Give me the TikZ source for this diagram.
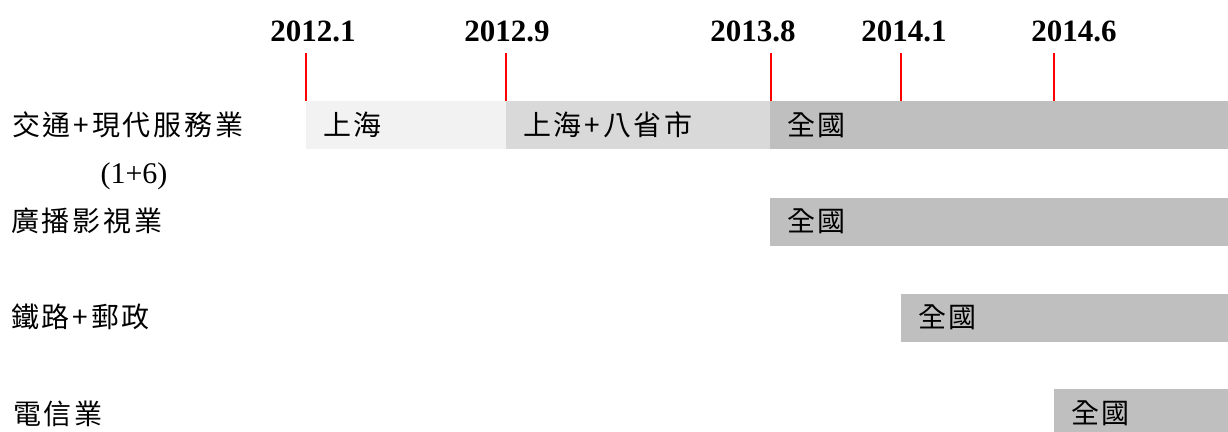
\documentclass[tikz,border=0pt]{standalone}
\usepackage{fontspec}
\setmainfont{Liberation Serif}
\newfontfamily\cjk[LetterSpace=10]{Noto Sans CJK TC}
\definecolor{barA}{HTML}{F2F2F2}
\definecolor{barB}{HTML}{D9D9D9}
\definecolor{barC}{HTML}{BFBFBF}
\tikzset{
  year/.style={anchor=base, inner sep=0pt, font=\fontsize{31}{31}\selectfont\bfseries},
  rowlabel/.style={anchor=west, inner sep=0pt, font=\cjk\fontsize{28}{30}\selectfont},
  serifnote/.style={inner sep=0pt, font=\fontsize{30}{30}\selectfont},
  barbox/.style={anchor=north west, minimum height=48pt, inner xsep=17pt, inner ysep=0pt,
    align=left, font=\cjk\fontsize{28}{30}\selectfont},
  tick/.style={draw=red, line width=2pt}
}
\begin{document}
\begin{tikzpicture}[x=1pt, y=-1pt]
\useasboundingbox (0,0) rectangle (1228,431);
\clip (0,0) rectangle (1228,431);
% year labels
\node[year] (y1) at (313,41.7) {2012.1};
\node[year] (y2) at (507,41.7) {2012.9};
\node[year] (y3) at (753,41.7) {2013.8};
\node[year] (y4) at (904,41.7) {2014.1};
\node[year] (y5) at (1074,41.7) {2014.6};
% bars row 1
\node[barbox, fill=barA, text width=166pt] (r1a) at (306,100.7) {上海};
\node[barbox, fill=barB, text width=230pt] (r1b) at (506,100.7) {上海+八省市};
\node[barbox, fill=barC, text width=424pt] (r1c) at (770,100.7) {全國};
% row 2
\node[barbox, fill=barC, text width=424pt] (r2) at (770,197.3) {全國};
% row 3
\node[barbox, fill=barC, text width=293pt] (r3) at (901,293.3) {全國};
% row 4
\node[barbox, fill=barC, text width=140pt] (r4) at (1054,389) {全國};
% ticks
\coordinate (t1) at (306,53.3);
\coordinate (t2) at (506,53.3);
\coordinate (t3) at (770.5,53.3);
\coordinate (t4) at (900.6,53.3);
\coordinate (t5) at (1053.7,53.3);
\draw[tick] (t1) -- (t1 |- r1a.north);
\draw[tick] (t2) -- (t2 |- r1a.north);
\draw[tick] (t3) -- (t3 |- r1a.north);
\draw[tick] (t4) -- (t4 |- r1a.north);
\draw[tick] (t5) -- (t5 |- r1a.north);
% row labels
\node[rowlabel] (l1) at (12,125) {交通+現代服務業};
\node[serifnote] (l1b) at (134,176) {(1+6)};
\node[rowlabel] (l2) at (11,221) {廣播影視業};
\node[rowlabel] (l3) at (11,317) {鐵路+郵政};
\node[rowlabel] (l4) at (13,414) {電信業};
\end{tikzpicture}
\end{document}
